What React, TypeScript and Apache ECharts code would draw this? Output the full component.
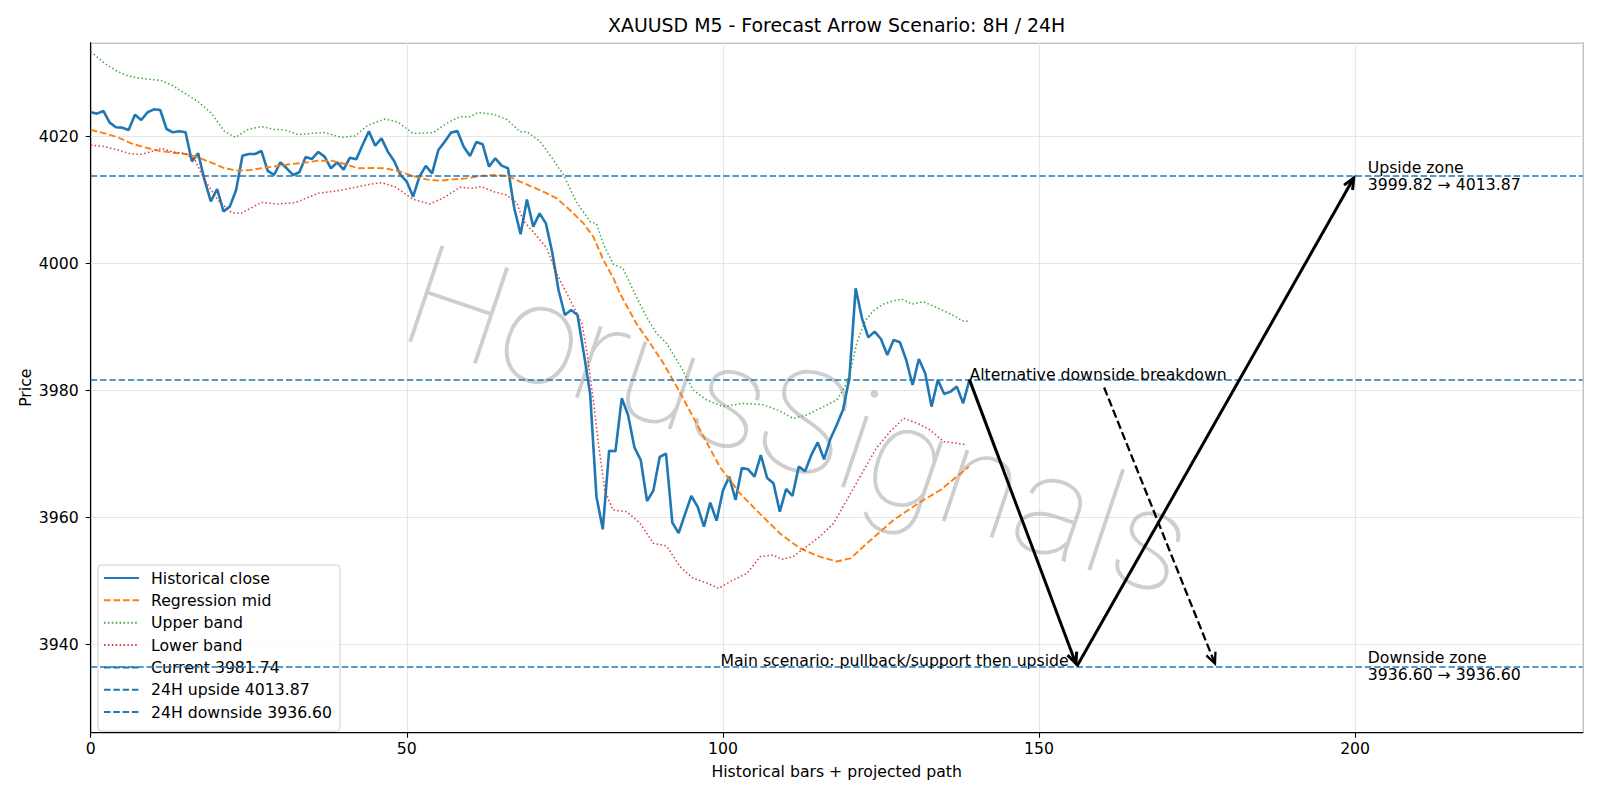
import React, { useEffect, useRef } from 'react';
import * as echarts from 'echarts';

// ---------- data ----------
const CLOSE = [
  4023.84, 4023.63, 4024.05, 4022.21, 4021.48, 4021.42, 4021.06, 4023.47, 4022.63, 4023.84,
  4024.31, 4024.2, 4021.21, 4020.69, 4020.85, 4020.69, 4016.12, 4017.38, 4013.18, 4009.82,
  4011.76, 4008.24, 4008.98, 4011.61, 4017.01, 4017.28, 4017.28, 4017.75, 4014.6, 4013.97,
  4015.96, 4015.02, 4013.97, 4014.39, 4016.8, 4016.49, 4017.59, 4016.86, 4015.02, 4015.96,
  4014.81, 4016.7, 4016.43, 4018.69, 4020.85, 4018.59, 4019.74, 4017.64, 4016.17, 4013.97,
  4012.92, 4010.56, 4013.7, 4015.39, 4014.23, 4017.91, 4019.22, 4020.64, 4020.9, 4018.43,
  4016.96, 4019.17, 4018.8, 4015.28, 4016.59, 4015.44, 4015.02, 4008.72, 4004.65, 4010.1,
  4005.83, 4007.93, 4006.35, 4001.8, 3995.86, 3991.92, 3992.71, 3991.92, 3985.88, 3979.5,
  3963.31, 3958.17, 3970.55, 3970.45, 3978.8, 3976.17, 3971.08, 3969.09, 3962.63, 3964.26,
  3969.56, 3970.08, 3959.22, 3957.59, 3960.53, 3963.42, 3961.74, 3958.59, 3962.37, 3959.53,
  3964.26, 3966.46, 3962.79, 3967.83, 3967.62, 3966.46, 3969.87, 3966.25, 3965.41, 3960.95,
  3964.52, 3963.42, 3968.04, 3967.3, 3969.9, 3971.85, 3969.2, 3972.4, 3974.6, 3977.0,
  3981.95, 3996.12, 3991.4, 3988.4, 3989.3, 3988.14, 3985.62, 3987.98, 3987.62, 3984.83,
  3980.9, 3984.99, 3982.73, 3977.49, 3981.69, 3979.48, 3979.85, 3980.64, 3978.01, 3981.74,
];

const REG_MID = [
  [0, 4021.06], [2.2, 4020.53], [4.3, 4019.89], [6.4, 4018.95], [8.5, 4018.32], [10.7, 4017.8],
  [12.8, 4017.48], [14.9, 4017.28], [17, 4016.75], [19.1, 4015.91], [21.2, 4015.02], [23.3, 4014.65],
  [25.4, 4014.76], [27.5, 4015.12], [29.6, 4015.38], [31.8, 4015.7], [33.9, 4015.91], [36, 4016.22],
  [38.1, 4016.22], [40.2, 4015.7], [42.3, 4015.02], [44.4, 4015.07], [46.5, 4015.02], [48.6, 4014.6],
  [51, 4013.8], [53.1, 4013.28], [55.2, 4013.07], [57.3, 4013.28], [59.4, 4013.44], [61.6, 4013.81],
  [63.7, 4013.96], [65.8, 4013.86], [67.9, 4012.92], [70, 4012.03], [72.1, 4011.1], [73.7, 4010.29],
  [75.8, 4008.45], [77.9, 4006.4], [79.5, 4004.25], [81.1, 4000.58], [82.7, 3997.69], [83.7, 3995.33],
  [86.3, 3990.6], [88.5, 3987.45], [90.6, 3984.3], [92.7, 3980.63], [96.4, 3973.8], [99.5, 3968.03],
  [102.7, 3963.83], [105.8, 3960.68], [109, 3957.53], [112.2, 3955.17], [115.3, 3953.86], [118, 3953.1],
  [120.2, 3953.6], [122.8, 3955.97], [124.9, 3957.8], [127, 3959.64], [131.3, 3962.52], [134.4, 3964.36],
  [138.9, 3968.03],
];

const UPPER_BAND = [
  [0, 4033.39], [2.2, 4031.55], [4.3, 4030.24], [5.9, 4029.56], [8, 4029.19], [11.2, 4028.83],
  [12.8, 4028.14], [14.9, 4026.83], [17, 4025.52], [19.1, 4023.68], [21.2, 4020.79], [22.9, 4019.89],
  [24.9, 4021.15], [27, 4021.58], [29.1, 4021.15], [30.7, 4021.06], [32.8, 4020.32], [34.9, 4020.53],
  [37, 4020.64], [39.7, 4019.89], [41.8, 4020.11], [43.9, 4021.84], [46.5, 4022.78], [48.6, 4022.3],
  [51, 4020.5], [54.2, 4020.64], [56.3, 4022.1], [58.4, 4023.15], [60, 4023.15], [61.3, 4023.83],
  [63.7, 4023.52], [65.8, 4022.73], [67.9, 4020.79], [69, 4020.79], [71.1, 4019.22], [73.2, 4016.33],
  [74.8, 4013.96], [76.9, 4009.6], [79, 4006.61], [80, 4006.3], [81.1, 4003.0], [82.7, 3999.9],
  [84.2, 3999.26], [85.8, 3995.85], [87.9, 3991.65], [89.5, 3989.03], [91.1, 3987.46], [93.2, 3984.0],
  [95.3, 3980.11], [97.4, 3978.54], [100, 3977.49], [103.2, 3978.0], [106.4, 3977.8], [109, 3976.8],
  [111.1, 3975.64], [113.2, 3976.16], [115.9, 3977.47], [118, 3978.52], [119.3, 3980.62], [120.1, 3982.72],
  [121.2, 3987.6], [122.5, 3991.01], [123.8, 3992.59], [125.4, 3993.64], [127, 3994.16], [128.3, 3994.42],
  [129.9, 3993.64], [131.7, 3994.0], [133.8, 3993.1], [136.6, 3991.77], [137.9, 3991.0], [139, 3990.9],
];

const LOWER_BAND = [
  [0, 4018.69], [2.2, 4018.43], [4.3, 4017.9], [6.4, 4017.28], [8, 4017.23], [9.6, 4017.64],
  [11.2, 4018.17], [12.8, 4017.64], [14.9, 4017.38], [16.5, 4016.33], [18, 4013.18], [20.1, 4010.03],
  [22.3, 4008.03], [23.8, 4007.93], [27, 4009.66], [29.6, 4009.4], [32.3, 4009.61], [36, 4011.08],
  [39.1, 4011.5], [42.3, 4012.13], [44.4, 4012.55], [46, 4012.76], [48.1, 4012.13], [51, 4010.14],
  [53.6, 4009.4], [55.7, 4010.29], [58.4, 4012.03], [60.5, 4011.87], [61.8, 4012.13], [63.7, 4011.34],
  [65.8, 4010.82], [67.4, 4009.6], [68.4, 4006.8], [70, 4005.0], [72.1, 4002.5], [73.7, 3998.48],
  [75.3, 3995.33], [76.9, 3992.18], [77.7, 3990.6], [78.5, 3986.0], [79.5, 3978.5], [80.3, 3971.71],
  [81.3, 3964.36], [82.6, 3961.21], [84.8, 3960.95], [86.9, 3959.11], [89, 3955.96], [91.1, 3955.54],
  [93.2, 3952.29], [95.3, 3950.45], [97.4, 3949.76], [99.3, 3948.87], [101.6, 3950.18], [103.8, 3951.23],
  [105.9, 3953.86], [108, 3954.12], [109.3, 3953.44], [111.1, 3953.86], [113.2, 3955.43], [115.3, 3957.01],
  [117.5, 3959.11], [119, 3961.74], [121.7, 3966.46], [124.3, 3971.0], [126.5, 3973.6], [128.6, 3975.65],
  [130.7, 3974.9], [132.8, 3973.8], [134.9, 3971.97], [136.4, 3971.81], [138.6, 3971.45],
];

const CURRENT = 3981.74;
const UPSIDE_24H = 4013.87;
const DOWNSIDE_24H = 3936.6;

// arrows: [x1, y1, x2, y2, dashed]
const ARROWS = [
  [139, 3981.74, 156, 3936.6, 0],
  [156, 3936.6, 200, 4013.87, 0],
  [160.3, 3980.5, 178, 3936.6, 1],
];

const ANNOTATION_TEXTS = [
  'Alternative downside breakdown',
  'Main scenario: pullback/support then upside',
  'Upside zone\n3999.82 \u2192 4013.87',
  'Downside zone\n3936.60 \u2192 3936.60',
];
const ANNOTATION_ANCHORS = [
  [139, 3981.74],
  [154.7, 3936.6],
  [202, 4013.87],
  [202, 3936.6],
];
const ANNOTATION_ALIGN = ['left', 'right', 'left', 'left'];

const SERIES_NAMES = [
  'Historical close',
  'Regression mid',
  'Upper band',
  'Lower band',
  'Current 3981.74',
  '24H upside 4013.87',
  '24H downside 3936.60',
];

const TITLE = 'XAUUSD M5 - Forecast Arrow Scenario: 8H / 24H';
const X_NAME = 'Historical bars + projected path';
const Y_NAME = 'Price';
const WATERMARK = 'HorusSignals';

const FONT = 'DejaVu Sans';
const FS = 15.7;
const BLUE = '#1f77b4';

export default function App() {
  const ref = useRef<HTMLDivElement>(null);

  useEffect(() => {
    if (!ref.current) return;
    const chart = echarts.init(ref.current, undefined, { renderer: 'svg' });

    const hline = (name: string, value: number) => ({
      name,
      type: 'line',
      data: [],
      symbol: 'none',
      z: 3,
      itemStyle: { color: BLUE },
      lineStyle: { color: BLUE, width: 1.6, type: [6.5, 2.8] },
      markLine: {
        silent: true,
        symbol: ['none', 'none'],
        label: { show: false },
        lineStyle: { color: BLUE, width: 1.6, type: [6.5, 2.8] },
        emphasis: { disabled: true },
        data: [{ yAxis: value }],
      },
    });

    const option: any = {
      animation: false,
      backgroundColor: '#ffffff',
      title: {
        text: TITLE,
        left: 836.7,
        top: 15,
        padding: 0,
        textAlign: 'center',
        textStyle: { fontFamily: FONT, fontSize: 18.9, fontWeight: 'normal', color: '#000', lineHeight: 19 },
      },
      grid: {
        left: 90.7,
        top: 42.7,
        right: 17.3,
        bottom: 67.3,
        show: true,
        borderColor: '#000',
        borderWidth: 1.1,
        backgroundColor: 'transparent',
      },
      legend: {
        orient: 'vertical',
        left: 98,
        top: 565,
        padding: [5, 8, 11, 5],
        itemWidth: 35,
        itemHeight: 14,
        itemGap: 6.35,
        backgroundColor: 'rgba(255,255,255,0.8)',
        borderColor: '#cccccc',
        borderWidth: 1,
        borderRadius: 3,
        data: SERIES_NAMES,
        selectedMode: false,
        itemStyle: { opacity: 0 },
        textStyle: { fontFamily: FONT, fontSize: FS, color: '#000', lineHeight: 14, padding: [0, 0, 0, 7] },
      },
      xAxis: {
        type: 'value',
        min: 0,
        max: 236,
        interval: 50,
        name: X_NAME,
        nameLocation: 'middle',
        nameGap: 31,
        nameMoveOverlap: false,
        nameTextStyle: { fontFamily: FONT, fontSize: FS, color: '#000' },
        axisLine: { show: true, onZero: false, lineStyle: { color: '#000', width: 1.1 } },
        axisTick: { show: true, length: 5, lineStyle: { color: '#000', width: 1.1 } },
        axisLabel: {
          fontFamily: FONT,
          fontSize: FS,
          color: '#000',
          margin: 8,
          showMaxLabel: false,
          formatter: (v: number) => (v % 50 === 0 ? String(v) : ''),
        },
        splitLine: { show: true, lineStyle: { color: '#e6e6e6', width: 1.1 } },
      },
      yAxis: {
        type: 'value',
        min: 3926.14,
        max: 4034.8,
        splitNumber: 5,
        name: Y_NAME,
        nameLocation: 'middle',
        nameGap: 57,
        nameMoveOverlap: false,
        nameTextStyle: { fontFamily: FONT, fontSize: FS, color: '#000' },
        axisLine: { show: true, onZero: false, lineStyle: { color: '#000', width: 1.1 } },
        axisTick: { show: true, length: 5, lineStyle: { color: '#000', width: 1.1 } },
        axisLabel: {
          fontFamily: FONT,
          fontSize: FS,
          color: '#000',
          margin: 12,
          showMinLabel: false,
          showMaxLabel: false,
          formatter: (v: number) => (Math.abs(v / 20 - Math.round(v / 20)) < 1e-6 ? String(Math.round(v)) : ''),
        },
        splitLine: { show: true, lineStyle: { color: '#e6e6e6', width: 1.1 } },
      },
      graphic: [
        {
          type: 'text',
          x: 798,
          y: 421,
          rotation: -0.325,
          z: 1,
          silent: true,
          style: {
            text: WATERMARK,
            fontFamily: 'Roboto',
            fontWeight: 100,
            fontSize: 142,
            fill: 'rgba(165,165,165,0.55)',
            align: 'center',
            verticalAlign: 'middle',
            shadowColor: 'rgba(0,0,0,0.25)',
            shadowBlur: 6,
            shadowOffsetX: -4,
            shadowOffsetY: 7,
          },
        },
      ],
      series: [
        {
          name: SERIES_NAMES[0],
          type: 'line',
          data: CLOSE.map((v, i) => [i, v]),
          symbol: 'none',
          z: 3,
          itemStyle: { color: BLUE },
          lineStyle: { color: BLUE, width: 2.6 },
        },
        {
          name: SERIES_NAMES[1],
          type: 'line',
          data: REG_MID,
          symbol: 'none',
          z: 3,
          itemStyle: { color: '#ff7f0e' },
          lineStyle: { color: '#ff7f0e', width: 1.9, type: [6.6, 2.9] },
        },
        {
          name: SERIES_NAMES[2],
          type: 'line',
          data: UPPER_BAND,
          symbol: 'none',
          z: 3,
          itemStyle: { color: '#2ca02c' },
          lineStyle: { color: '#2ca02c', width: 1.5, type: [1.5, 2.4], opacity: 0.9 },
        },
        {
          name: SERIES_NAMES[3],
          type: 'line',
          data: LOWER_BAND,
          symbol: 'none',
          z: 3,
          itemStyle: { color: '#d62728' },
          lineStyle: { color: '#d62728', width: 1.5, type: [1.5, 2.4], opacity: 0.9 },
        },
        hline(SERIES_NAMES[4], CURRENT),
        hline(SERIES_NAMES[5], UPSIDE_24H),
        hline(SERIES_NAMES[6], DOWNSIDE_24H),
        {
          name: 'arrows',
          type: 'custom',
          z: 5,
          silent: true,
          clip: false,
          data: ARROWS,
          encode: { x: [0, 2], y: [1, 3] },
          renderItem: (params: any, api: any) => {
            const p1 = api.coord([api.value(0), api.value(1)]);
            const p2raw = api.coord([api.value(2), api.value(3)]);
            const dashed = api.value(4) === 1;
            const ang = Math.atan2(p2raw[1] - p1[1], p2raw[0] - p1[0]);
            const shrink = 2.8;
            const p2 = [p2raw[0] - shrink * Math.cos(ang), p2raw[1] - shrink * Math.sin(ang)];
            const hl = 12;
            const ha = 0.42;
            const a1 = [p2[0] - hl * Math.cos(ang - ha), p2[1] - hl * Math.sin(ang - ha)];
            const a2 = [p2[0] - hl * Math.cos(ang + ha), p2[1] - hl * Math.sin(ang + ha)];
            const lw = dashed ? 2.3 : 3;
            return {
              type: 'group',
              children: [
                {
                  type: 'line',
                  shape: { x1: p1[0], y1: p1[1], x2: p2[0], y2: p2[1] },
                  style: { stroke: '#000', lineWidth: lw, lineDash: dashed ? [8.4, 3.6] : null, fill: null },
                },
                {
                  type: 'polyline',
                  shape: { points: [a1, p2, a2] },
                  style: { stroke: '#000', lineWidth: lw, fill: null },
                },
              ],
            };
          },
        },
        {
          name: 'annotations',
          type: 'custom',
          z: 6,
          silent: true,
          clip: false,
          data: ANNOTATION_ANCHORS,
          encode: { x: 0, y: 1 },
          renderItem: (params: any, api: any) => {
            const i = params.dataIndex;
            const p = api.coord([api.value(0), api.value(1)]);
            const txt = ANNOTATION_TEXTS[i];
            const multi = txt.indexOf('\n') >= 0;
            return {
              type: 'text',
              x: p[0],
              y: multi ? p[1] : p[1] - 5.4,
              style: {
                text: txt,
                align: ANNOTATION_ALIGN[i],
                verticalAlign: 'middle',
                fontFamily: FONT,
                fontSize: FS,
                lineHeight: 17,
                fill: '#000',
              },
            };
          },
        },
      ],
    };

    chart.setOption(option);
    return () => chart.dispose();
  }, []);

  return (
    <div
      ref={ref}
      style={{ position: 'fixed', left: 0, top: 0, width: 1600, height: 800, background: '#fff' }}
    />
  );
}
